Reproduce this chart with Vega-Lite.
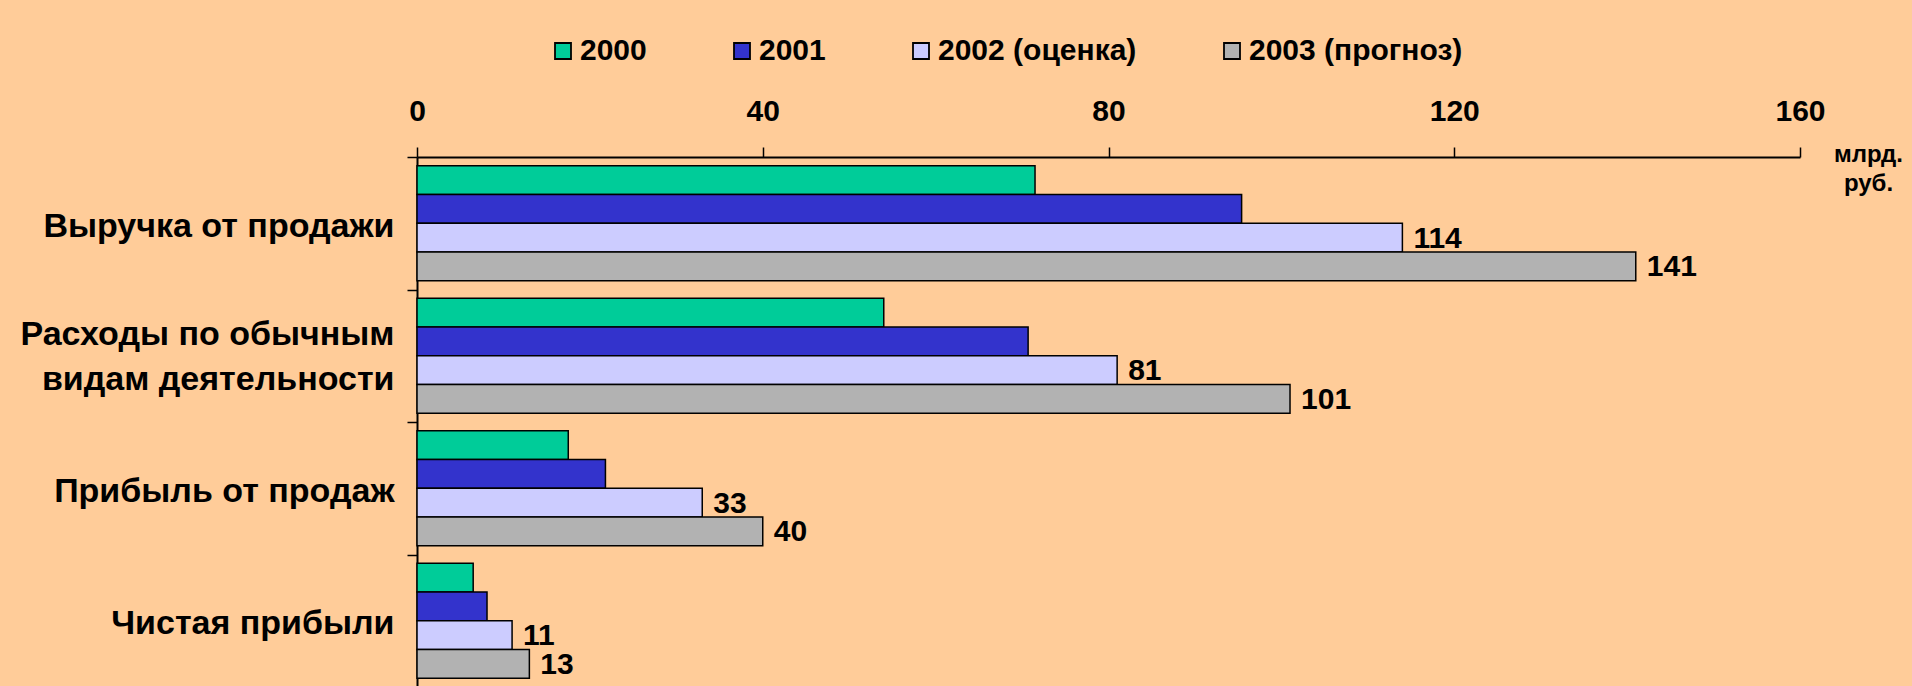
{
  "$schema": "https://vega.github.io/schema/vega-lite/v6.json",
  "width": 1383,
  "height": 530,
  "autosize": {"type": "none"},
  "padding": {"left": 417, "top": 157, "right": 112, "bottom": 0},
  "background": "#FFCC99",
  "config": {"view": {"stroke": null}, "font": "Liberation Sans"},
  "data": {
    "values": [
      {"category": "Выручка от продажи", "year": "2000", "value": 71.5},
      {"category": "Выручка от продажи", "year": "2001", "value": 95.4},
      {"category": "Выручка от продажи", "year": "2002 (оценка)", "value": 114},
      {"category": "Выручка от продажи", "year": "2003 (прогноз)", "value": 141},
      {"category": "Расходы по обычным видам деятельности", "year": "2000", "value": 54},
      {"category": "Расходы по обычным видам деятельности", "year": "2001", "value": 70.7},
      {"category": "Расходы по обычным видам деятельности", "year": "2002 (оценка)", "value": 81},
      {"category": "Расходы по обычным видам деятельности", "year": "2003 (прогноз)", "value": 101},
      {"category": "Прибыль от продаж", "year": "2000", "value": 17.5},
      {"category": "Прибыль от продаж", "year": "2001", "value": 21.8},
      {"category": "Прибыль от продаж", "year": "2002 (оценка)", "value": 33},
      {"category": "Прибыль от продаж", "year": "2003 (прогноз)", "value": 40},
      {"category": "Чистая прибыли", "year": "2000", "value": 6.5},
      {"category": "Чистая прибыли", "year": "2001", "value": 8.1},
      {"category": "Чистая прибыли", "year": "2002 (оценка)", "value": 11},
      {"category": "Чистая прибыли", "year": "2003 (прогноз)", "value": 13}
    ]
  },
  "encoding": {
    "y": {
      "field": "category",
      "type": "nominal",
      "sort": ["Выручка от продажи", "Расходы по обычным видам деятельности", "Прибыль от продаж", "Чистая прибыли"],
      "scale": {"paddingInner": 0, "paddingOuter": 0},
      "axis": {
        "orient": "left",
        "title": null,
        "tickBand": "extent",
        "tickSize": 10,
        "tickWidth": 1.5,
        "tickColor": "black",
        "domainColor": "black",
        "domainWidth": 2,
        "labelFontSize": 34,
        "labelFontWeight": "bold",
        "labelColor": "black",
        "labelPadding": 13,
        "labelLimit": 600,
        "labelLineHeight": 45,
        "labelOffset": {"condition": {"test": "datum.value == 'Расходы по обычным видам деятельности'", "value": -21}, "value": 3},
        "labelExpr": "datum.value == 'Расходы по обычным видам деятельности' ? ['Расходы по обычным', 'видам деятельности'] : datum.value"
      }
    },
    "yOffset": {
      "field": "year",
      "type": "nominal",
      "sort": ["2000", "2001", "2002 (оценка)", "2003 (прогноз)"],
      "scale": {"paddingInner": 0, "paddingOuter": 0.3}
    },
    "x": {
      "field": "value",
      "type": "quantitative",
      "scale": {"domain": [0, 160], "nice": false},
      "axis": {
        "orient": "top",
        "values": [0, 40, 80, 120, 160],
        "grid": false,
        "tickSize": 10,
        "tickWidth": 1.5,
        "tickColor": "black",
        "domainColor": "black",
        "domainWidth": 2,
        "labelFontSize": 30,
        "labelFontWeight": "bold",
        "labelColor": "black",
        "labelPadding": 21,
        "labelFlush": false,
        "title": ["млрд.", "руб."],
        "titleFontSize": 24,
        "titleFontWeight": "bold",
        "titleColor": "black",
        "titleX": 1451,
        "titleY": 4,
        "titleAlign": "center",
        "titleBaseline": "alphabetic",
        "titleAngle": 0,
        "titleLineHeight": 29
      }
    }
  },
  "layer": [
    {
      "mark": {"type": "bar", "stroke": "black", "strokeWidth": 1.5},
      "encoding": {
        "color": {
          "field": "year",
          "type": "nominal",
          "scale": {
            "domain": ["2000", "2001", "2002 (оценка)", "2003 (прогноз)"],
            "range": ["#00CC99", "#3333CC", "#CCCCFF", "#B2B2B2"]
          },
          "legend": {
            "orient": "none",
            "legendX": 131,
            "legendY": -121,
            "direction": "horizontal",
            "columns": 4,
            "title": null,
            "symbolType": "square",
            "symbolSize": 256,
            "symbolStrokeColor": "black",
            "symbolStrokeWidth": 1.8,
            "symbolOpacity": 1,
            "labelFontSize": 30,
            "labelFontWeight": "bold",
            "labelColor": "black",
            "labelOffset": 2,
            "columnPadding": 80,
            "labelLimit": 600
          }
        }
      }
    },
    {
      "transform": [{"filter": "datum.year == '2002 (оценка)' || datum.year == '2003 (прогноз)'"}],
      "mark": {"type": "text", "align": "left", "baseline": "middle", "dx": 11, "dy": 1, "fontSize": 30, "fontWeight": "bold", "color": "black"},
      "encoding": {
        "text": {"field": "value", "type": "quantitative", "format": ".0f"}
      }
    }
  ]
}
